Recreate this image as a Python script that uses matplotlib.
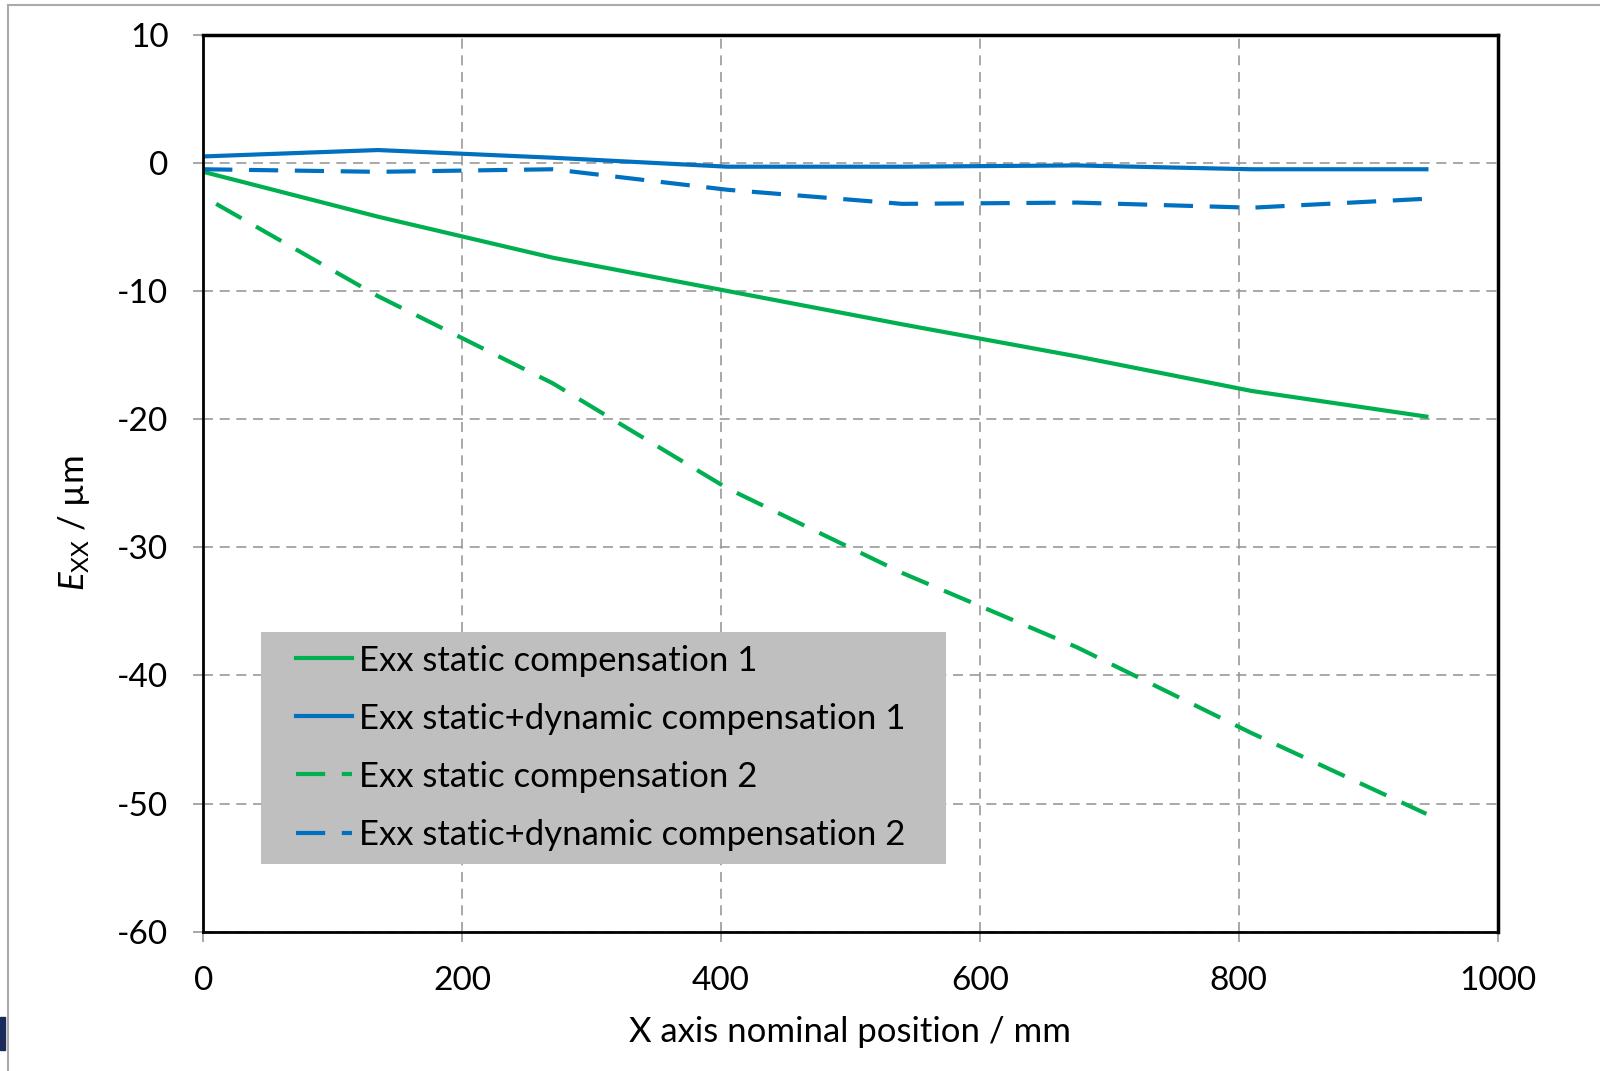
import matplotlib
matplotlib.use("Agg")
import matplotlib.pyplot as plt
from matplotlib.lines import Line2D
from matplotlib.patches import Rectangle

# data (x in mm, error in um)
x_pos = [0, 135, 270, 405, 540, 675, 810, 945]
x_pos_s2 = [10, 135, 270, 405, 540, 675, 810, 945]
static_1 = [-0.7, -4.2, -7.4, -10.0, -12.6, -15.1, -17.8, -19.8]
static_dyn_1 = [0.5, 1.0, 0.4, -0.3, -0.3, -0.2, -0.5, -0.5]
static_2 = [-3.2, -10.4, -17.2, -25.4, -32.0, -37.8, -44.5, -50.8]
static_dyn_2 = [-0.5, -0.7, -0.5, -2.1, -3.2, -3.1, -3.5, -2.8]

labels = ["Exx static compensation 1",
          "Exx static+dynamic compensation 1",
          "Exx static compensation 2",
          "Exx static+dynamic compensation 2"]
x_ticks = [0, 200, 400, 600, 800, 1000]
y_ticks = [10, 0, -10, -20, -30, -40, -50, -60]

green = "#00B050"
blue = "#0070C0"

plt.rcParams["font.family"] = ["Lato", "DejaVu Sans"]
plt.rcParams["mathtext.fontset"] = "custom"
plt.rcParams["mathtext.it"] = "Lato:italic"
plt.rcParams["mathtext.rm"] = "Lato"
plt.rcParams["axes.unicode_minus"] = False

fig = plt.figure(figsize=(16, 10.71), dpi=100)
ax = fig.add_axes([0.127, 0.130, 0.809, 0.8376])

lw = 3.0
dash = (7, 4)
ax.plot(x_pos, static_1, color=green, lw=lw, label=labels[0])
ax.plot(x_pos, static_dyn_1, color=blue, lw=lw, label=labels[1])
ax.plot(x_pos_s2, static_2, color=green, lw=lw, dashes=dash, label=labels[2])
ax.plot(x_pos, static_dyn_2, color=blue, lw=lw, dashes=dash, label=labels[3])

ax.set_xlim(0, 1000)
ax.set_ylim(-60, 10)
ax.set_xticks(x_ticks)
ax.set_yticks(y_ticks)
ax.grid(True, color="#999999", ls=(0, (6, 4)), lw=1.2)
ax.set_axisbelow(True)

for side in ["left", "bottom"]:
    ax.spines[side].set_linewidth(2.0)
for side in ["top", "right"]:
    ax.spines[side].set_linewidth(2.5)
for s in ax.spines.values():
    s.set_color("black")

ax.tick_params(direction="out", length=7, width=1.2, color="#999999",
               labelsize=24, pad=18)

ax.set_xlabel("X axis nominal position / mm", fontsize=25, labelpad=14)
ax.set_ylabel(r"$E_{\mathrm{XX}}$ / µm", fontsize=25)
ax.yaxis.set_label_coords(-0.086, 0.455)

# legend: grey box drawn by hand, entries without frame
ax.add_patch(Rectangle((0.0449, 0.0751), 0.5288, 0.2594, transform=ax.transAxes,
                       facecolor="#bfbfbf", edgecolor="none", zorder=4))
leg = ax.legend(loc="center left", bbox_to_anchor=(0.0717, 0.2053),
                fontsize=25, frameon=False,
                handlelength=1.62, handletextpad=0.2, labelspacing=0.75,
                borderpad=0, borderaxespad=0)
leg.set_zorder(5)

# screenshot frame
fig.add_artist(Line2D([0.005, 0.005], [0, 0.995], color="#aaaaaa", lw=1.5,
                      transform=fig.transFigure))
fig.add_artist(Line2D([0.005, 1], [0.995, 0.995], color="#aaaaaa", lw=1.5,
                      transform=fig.transFigure))
fig.add_artist(Rectangle((0, 0.02), 0.003, 0.03, color="#1a2a5a",
                         transform=fig.transFigure))

fig.savefig("out.png", dpi=100, facecolor="white")
